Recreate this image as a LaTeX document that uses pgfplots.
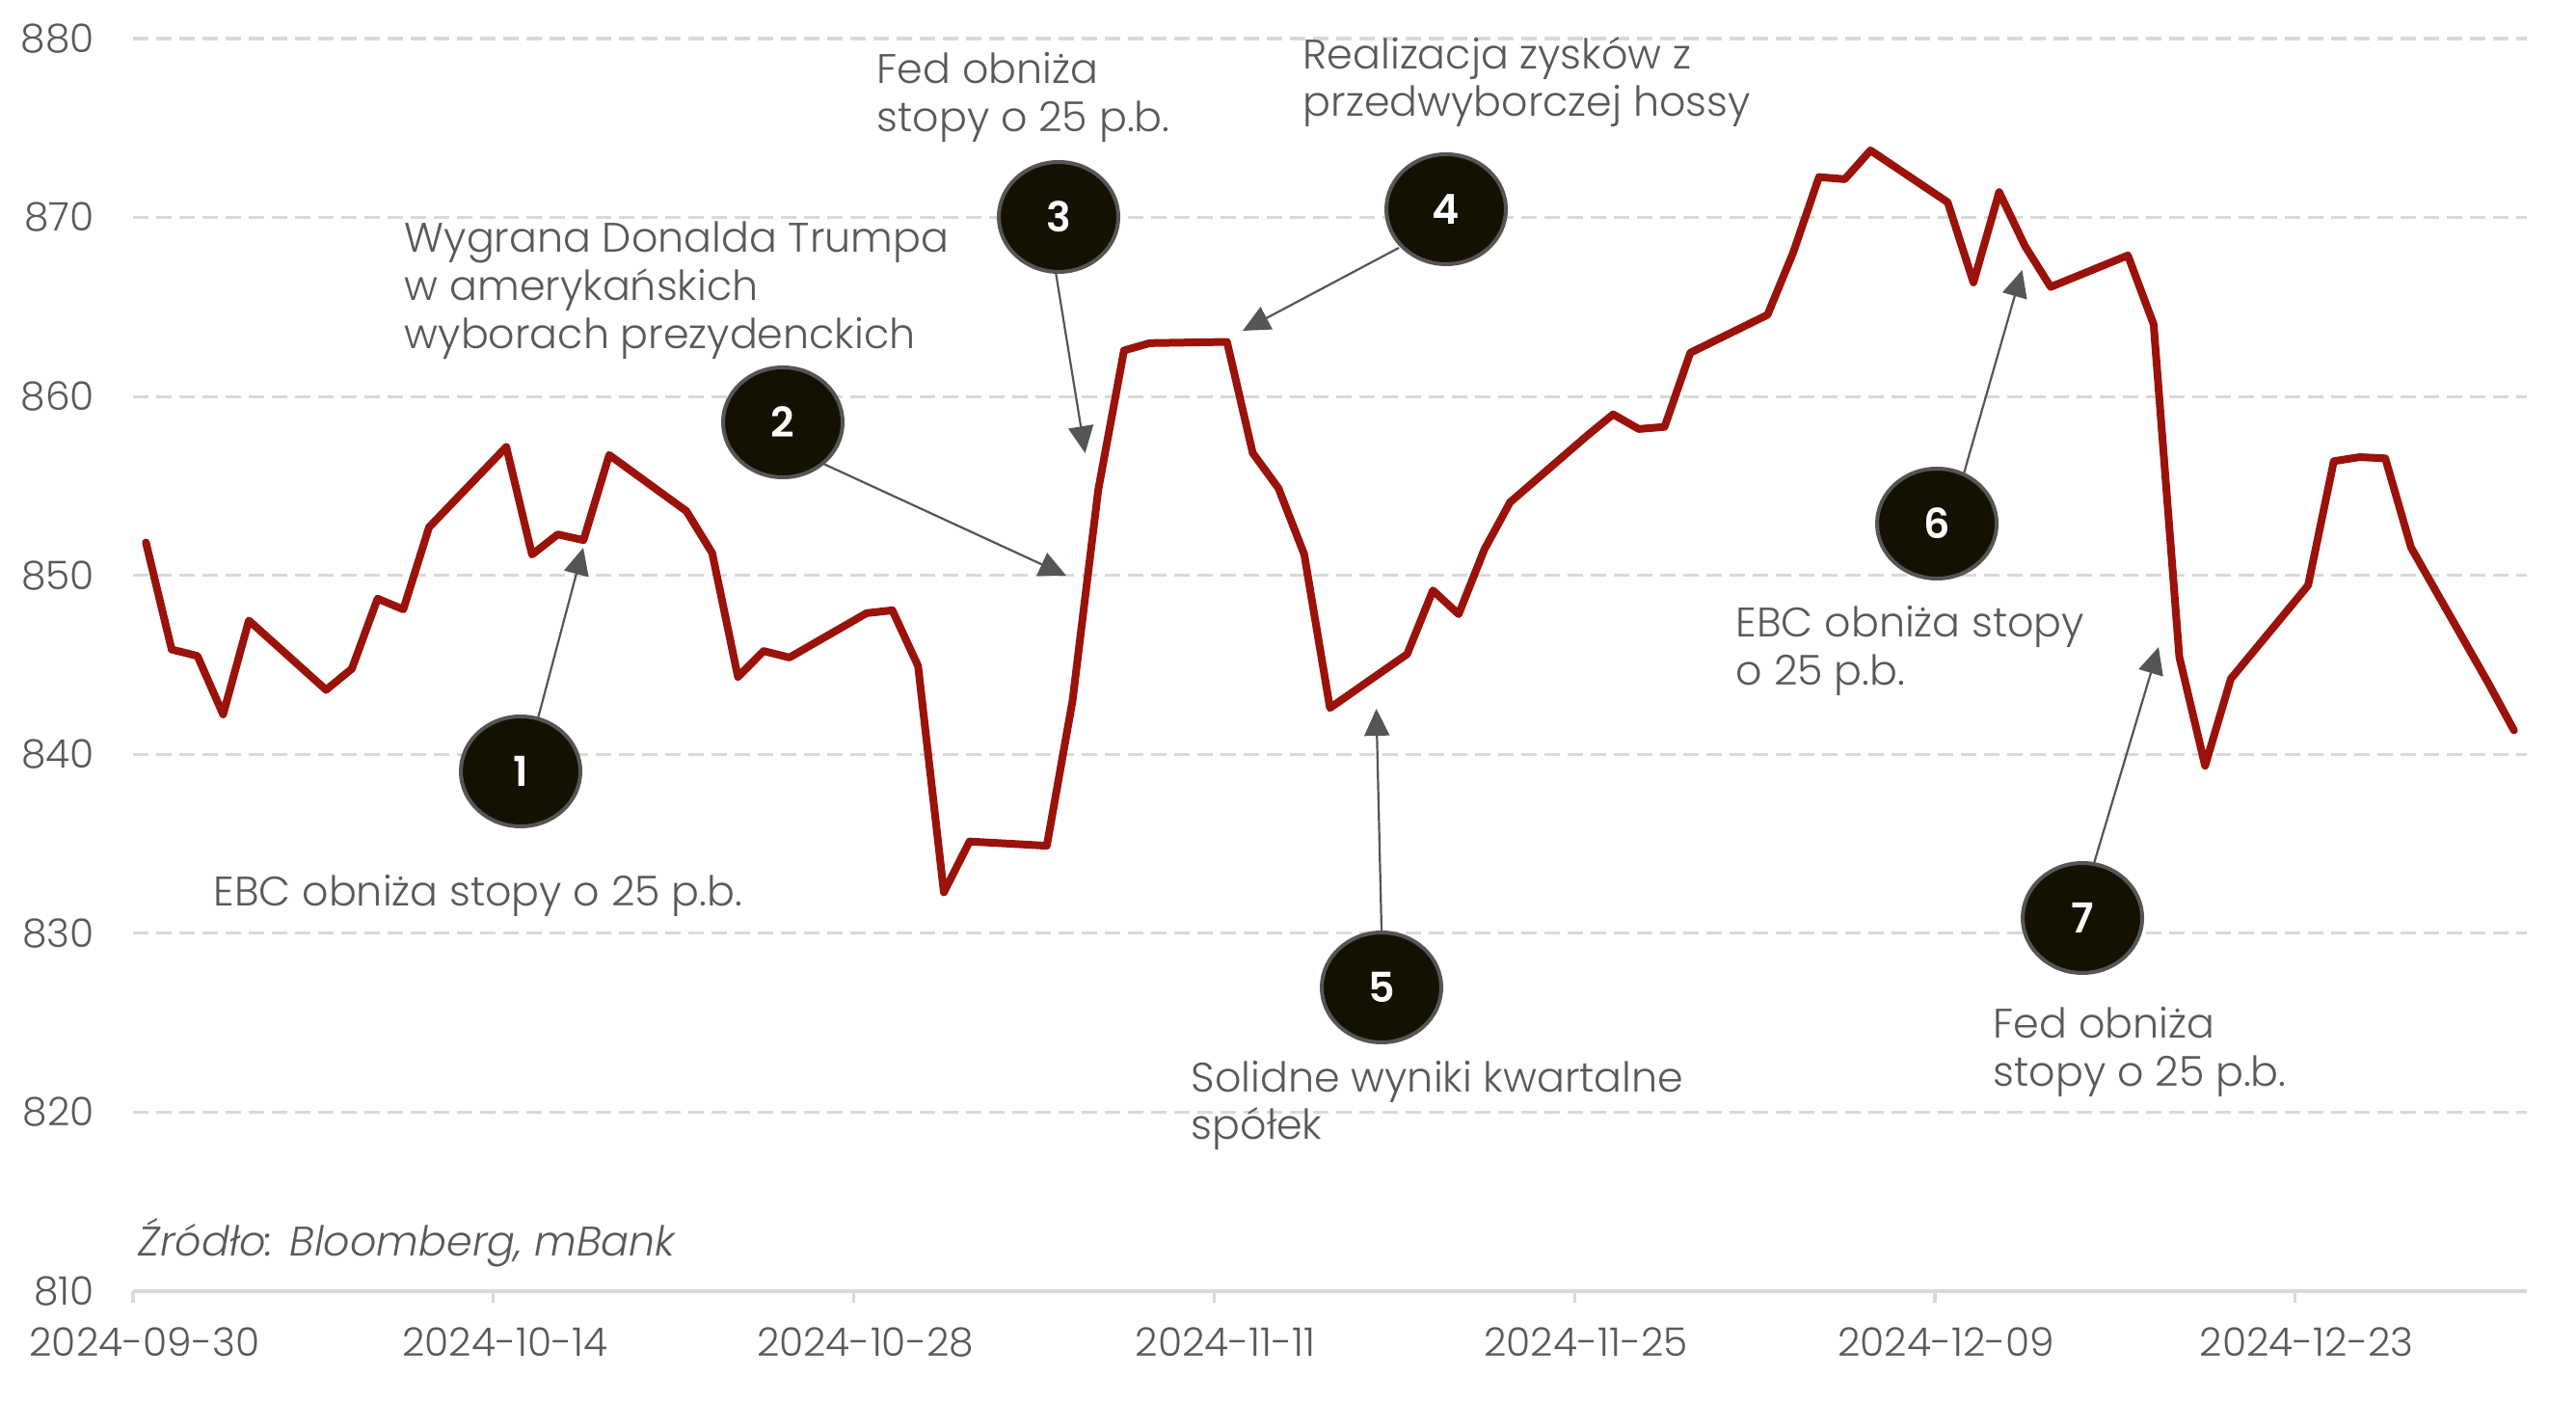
\documentclass[border=0pt]{standalone}
\usepackage{pgfplots}
\pgfplotsset{compat=1.18}
\usepackage{fontspec}
\setmainfont{Poppins}[UprightFont={* Light}, ItalicFont={* Light Italic}, BoldFont={* SemiBold}]
\usetikzlibrary{arrows.meta}
\definecolor{txt}{HTML}{595959}
\definecolor{wig}{HTML}{9A1209}
\definecolor{grd}{HTML}{D9D9D9}
\definecolor{dot}{HTML}{151100}
\definecolor{rim}{HTML}{555555}
\newcommand\ann{\fontsize{10.7}{12.8}\selectfont}
\newcommand\tck{\fontsize{10.2}{12}\selectfont}

\begin{document}
\begin{tikzpicture}
\begin{axis}[
  at={(34.5pt,29pt)}, anchor=south west,
  scale only axis, width=620.75pt, height=324.75pt,
  xmin=-0.5, xmax=92.5, ymin=810, ymax=880,
  axis x line*=bottom, axis y line*=left,
  x axis line style={grd, line width=0.8pt, -},
  y axis line style={draw=none},
  xtick={-0.5,13.5,27.5,41.5,55.5,69.5,83.5},
  xticklabels={2024-09-30,2024-10-14,2024-10-28,2024-11-11,2024-11-25,2024-12-09,2024-12-23},
  ytick={810,820,...,880},
  tick align=outside, major tick length=3pt,
  xtick style={grd, line width=0.8pt},
  ytick style={draw=none},
  ymajorgrids,
  grid style={grd, line width=0.8pt, dash pattern=on 4pt off 2pt},
  tick label style={font=\tck, text=txt},
  /pgf/number format/assume math mode=true,
  xticklabel style={xshift=3pt, yshift=-3pt},
  yticklabel style={xshift=-3.5pt},
  clip=false,
]
% dni od 2024-09-30, tylko sesje
\addplot[wig, line width=2pt, line join=round, line cap=round] coordinates {
(0,851.84) (1,845.86) (2,845.50) (3,842.23) (4,847.48)
(7,843.60) (8,844.78) (9,848.70) (10,848.10) (11,852.69)
(14,857.18) (15,851.16) (16,852.29) (17,851.97) (18,856.73)
(21,853.59) (22,851.25) (23,844.33) (24,845.77) (25,845.41)
(28,847.89) (29,848.05) (30,844.93) (31,832.29) (32,835.13)
(35,834.89) (36,843.00) (37,854.79) (38,862.57) (39,862.98)
(42,863.05) (43,856.84) (44,854.87) (45,851.18) (46,842.59)
(49,845.60) (50,849.16) (51,847.83) (52,851.45) (53,854.09)
(56,857.82) (57,859.00) (58,858.18) (59,858.30) (60,862.44)
(63,864.56) (64,868.05) (65,872.26) (66,872.14) (67,873.75)
(70,870.85) (71,866.37) (72,871.42) (73,868.41) (74,866.12)
(77,867.88) (78,864.03) (79,845.43) (80,839.36) (81,844.22)
(84,849.44) (85,856.38) (86,856.61) (87,856.54) (88,851.56)
(91,843.99) (92,841.34)
};
\end{axis}

% adnotacje w pikselach obrazu 2672x1455
\begin{scope}[shift={(0pt,363.75pt)}, x=0.25pt, y=-0.25pt]
  \tikzset{arr/.style={rim, line width=0.55pt, -{Triangle[length=7pt,width=6.5pt]}},
           lab/.style={anchor=base west, inner sep=0pt, text=txt, font=\ann}}
  \draw[arr] (558,745) -- (605,568);
  \draw[arr] (852,480) -- (1106,597);
  \draw[arr] (1095,282) -- (1125.6,470);
  \draw[arr] (1451,257) -- (1289,343);
  \draw[arr] (1433,965) -- (1427.6,735);
  \draw[arr] (2037,491) -- (2097.5,280);
  \draw[arr] (2171.5,897) -- (2239,671);
  \foreach \n/\cx/\cy in {1/540/800, 2/812/438, 3/1098/225, 4/1500/217,
                          5/1433/1024, 6/2009/543, 7/2160/952} {
    \draw[rim, line width=1pt, fill=dot] (\cx,\cy) ellipse [x radius=62, y radius=57];
    \node[text=white, font=\bfseries\ann] at (\cx,\cy) {\n};
  }
  \node[lab] at (419,262) {Wygrana Donalda Trumpa};
  \node[lab] at (419,312) {w amerykańskich};
  \node[lab] at (419,362) {wyborach prezydenckich};
  \node[lab] at (909,87) {Fed obniża};
  \node[lab] at (909,137) {stopy o 25 p.b.};
  \node[lab] at (1351,72) {Realizacja zysków z};
  \node[lab] at (1351,121) {przedwyborczej hossy};
  \node[lab] at (221,940) {EBC obniża stopy o 25 p.b.};
  \node[lab] at (1235,1132) {Solidne wyniki kwartalne};
  \node[lab] at (1235,1182) {spółek};
  \node[lab] at (1800,661) {EBC obniża stopy};
  \node[lab] at (1800,711) {o 25 p.b.};
  \node[lab] at (2067,1077) {Fed obniża};
  \node[lab] at (2067,1127) {stopy o 25 p.b.};
  \node[lab, font=\itshape\ann] at (143,1302) {Źródło: Bloomberg, mBank};
\end{scope}
\pgfresetboundingbox
\path (0,0) rectangle (668pt,363.75pt);
\end{tikzpicture}
\end{document}
